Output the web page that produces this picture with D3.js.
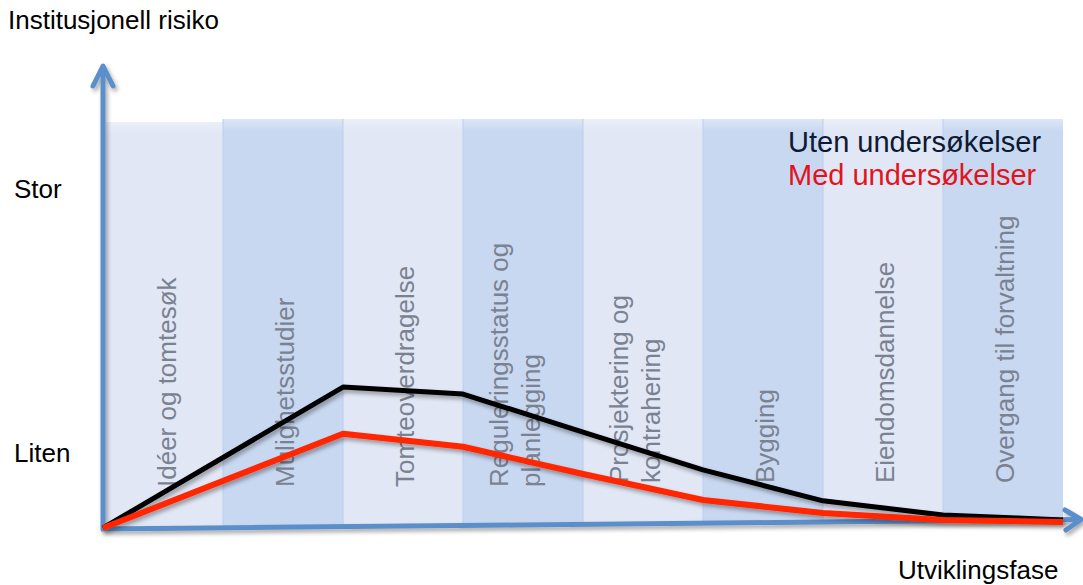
<!DOCTYPE html>
<html>
<head>
<meta charset="utf-8">
<script src="https://cdn.jsdelivr.net/npm/d3@7"></script>
<style>
  html, body { margin: 0; padding: 0; background: #fff; }
  svg { display: block; font-family: "Liberation Sans", Arial, Helvetica, sans-serif; }
</style>
</head>
<body>
<svg id="chart" width="1083" height="585"></svg>
<script>
// Development phases (one band each); "\n" splits a label over two lines
const phases = [
  "Idéer og tomtesøk",
  "Mulighetsstudier",
  "Tomteoverdragelse",
  "Reguleringsstatus og\nplanlegging",
  "Prosjektering og\nkontrahering",
  "Bygging",
  "Eiendomsdannelse",
  "Overgang til forvaltning"
];

// Phase boundaries where the risk curves have a vertex
const stagePoints = [0, 2, 3, 4, 5, 6, 7, 8];

// Institutional risk (0–100) at each boundary
const utenValues = [0, 34.7, 33.0, 23.6, 14.3, 6.7, 3.2, 2.0];
const medValues  = [0, 23.2, 20.0, 13.3, 6.9, 3.7, 2.0, 1.5];

const seriesNames = ["Uten undersøkelser", "Med undersøkelser"];

// Qualitative tick labels on the risk axis
const yTickLabels = ["Liten", "Stor"];
const yTickValues = [18.5, 83.5];

const axisTitleY = "Institusjonell risiko";
const axisTitleX = "Utviklingsfase";

// ---- layout ----
const svg = d3.select("#chart");
const x = d3.scaleLinear().domain([0, phases.length]).range([103, 1063]);
const y = d3.scaleLinear().domain([0, 100]).range([528, 122]);

const axisStart = [103, 529];
const axisEnd = [1081, 519.5];
const axisY = px => axisStart[1] + (axisEnd[1] - axisStart[1]) * (px - axisStart[0]) / (axisEnd[0] - axisStart[0]);

const defs = svg.append("defs");
const shadow = defs.append("filter").attr("id", "shadow")
  .attr("x", "-10%").attr("y", "-10%").attr("width", "120%").attr("height", "130%");
shadow.append("feDropShadow")
  .attr("dx", 2).attr("dy", 3).attr("stdDeviation", 2)
  .attr("flood-color", "#000").attr("flood-opacity", 0.35);

const bandColors = ["#e1e7f5", "#c9d8f1"];
bandColors.forEach((c, i) => {
  const g = defs.append("linearGradient").attr("id", "band" + i)
    .attr("x1", 0).attr("y1", 0).attr("x2", 0).attr("y2", 1);
  g.append("stop").attr("offset", 0).attr("stop-color", d3.interpolateRgb(c, "#fff")(0.35));
  g.append("stop").attr("offset", 0.03).attr("stop-color", c);
  g.append("stop").attr("offset", 1).attr("stop-color", c);
});

// ---- phase bands ----
const bands = svg.append("g");
phases.forEach((p, i) => {
  const x0 = Math.max(x(i), 105);
  const x1 = x(i + 1);
  const top = i === 0 ? 122 : 119;
  bands.append("path")
    .attr("d", `M${x0},${top}L${x1},${top}L${x1},${axisY(x1)}L${x0},${axisY(x0)}Z`)
    .attr("fill", `url(#band${i % 2})`);
  if (i > 0) {
    bands.append("line")
      .attr("x1", x(i)).attr("x2", x(i))
      .attr("y1", top).attr("y2", axisY(x(i)))
      .attr("stroke", "#bccdf0").attr("stroke-width", 1);
  }
});

// ---- rotated phase labels ----
const labels = svg.append("g")
  .attr("font-size", 26).attr("fill", "#7a8291");
phases.forEach((p, i) => {
  const cx = (x(i) + x(i + 1)) / 2 + (i === 0 ? 1.5 : 0);
  const y0 = i < 4 ? 487 : 483;
  const lines = p.split("\n");
  const offsets = lines.length === 1 ? [2] : [-24, 8];
  const g = labels.append("g").attr("transform", `translate(${cx},${y0}) rotate(-90)`);
  lines.forEach((ln, k) => {
    g.append("text")
      .attr("x", 0).attr("y", offsets[k])
      .attr("dominant-baseline", "central")
      .text(ln);
  });
});

// ---- axes ----
const axisColor = "#5b8fca";
const axes = svg.append("g").attr("filter", "url(#shadow)")
  .attr("stroke", axisColor).attr("fill", "none")
  .attr("stroke-linecap", "round").attr("stroke-linejoin", "round");
axes.append("line")
  .attr("x1", 103).attr("y1", 530).attr("x2", 103).attr("y2", 67)
  .attr("stroke-width", 5).attr("stroke-linecap", "butt");
axes.append("path")
  .attr("d", "M93,86L103,66L113,86")
  .attr("stroke-width", 5);
axes.append("line")
  .attr("x1", axisStart[0] - 2).attr("y1", axisStart[1])
  .attr("x2", axisEnd[0]).attr("y2", axisEnd[1])
  .attr("stroke-width", 5).attr("stroke-linecap", "butt");
axes.append("path")
  .attr("d", `M1065,510L${axisEnd[0]},${axisEnd[1]}L1066,530`)
  .attr("stroke-width", 5);

// ---- risk curves ----
const line = d3.line()
  .x((d, i) => x(stagePoints[i]))
  .y(d => y(d))
  .curve(d3.curveLinear);

const curves = svg.append("g").attr("filter", "url(#shadow)")
  .attr("fill", "none").attr("stroke-linejoin", "round");
curves.append("path").datum(utenValues)
  .attr("d", line).attr("stroke", "#000").attr("stroke-width", 5);
curves.append("path").datum(medValues)
  .attr("d", line).attr("stroke", "#ff2600").attr("stroke-width", 6);

// ---- axis titles and tick labels ----
svg.append("text").attr("x", 8).attr("y", 29)
  .attr("font-size", 26).attr("fill", "#000").text(axisTitleY);
svg.append("text").attr("x", 898).attr("y", 579)
  .attr("font-size", 26).attr("fill", "#000").text(axisTitleX);
yTickLabels.forEach((t, i) => {
  svg.append("text").attr("x", 14).attr("y", y(yTickValues[i]) + 9)
    .attr("font-size", 26).attr("fill", "#000").text(t);
});

// ---- legend ----
const legendColors = ["#0e1a33", "#e3131b"];
seriesNames.forEach((s, i) => {
  svg.append("text").attr("x", 788).attr("y", 152 + i * 33)
    .attr("font-size", 29).attr("fill", legendColors[i]).text(s);
});
</script>
</body>
</html>
